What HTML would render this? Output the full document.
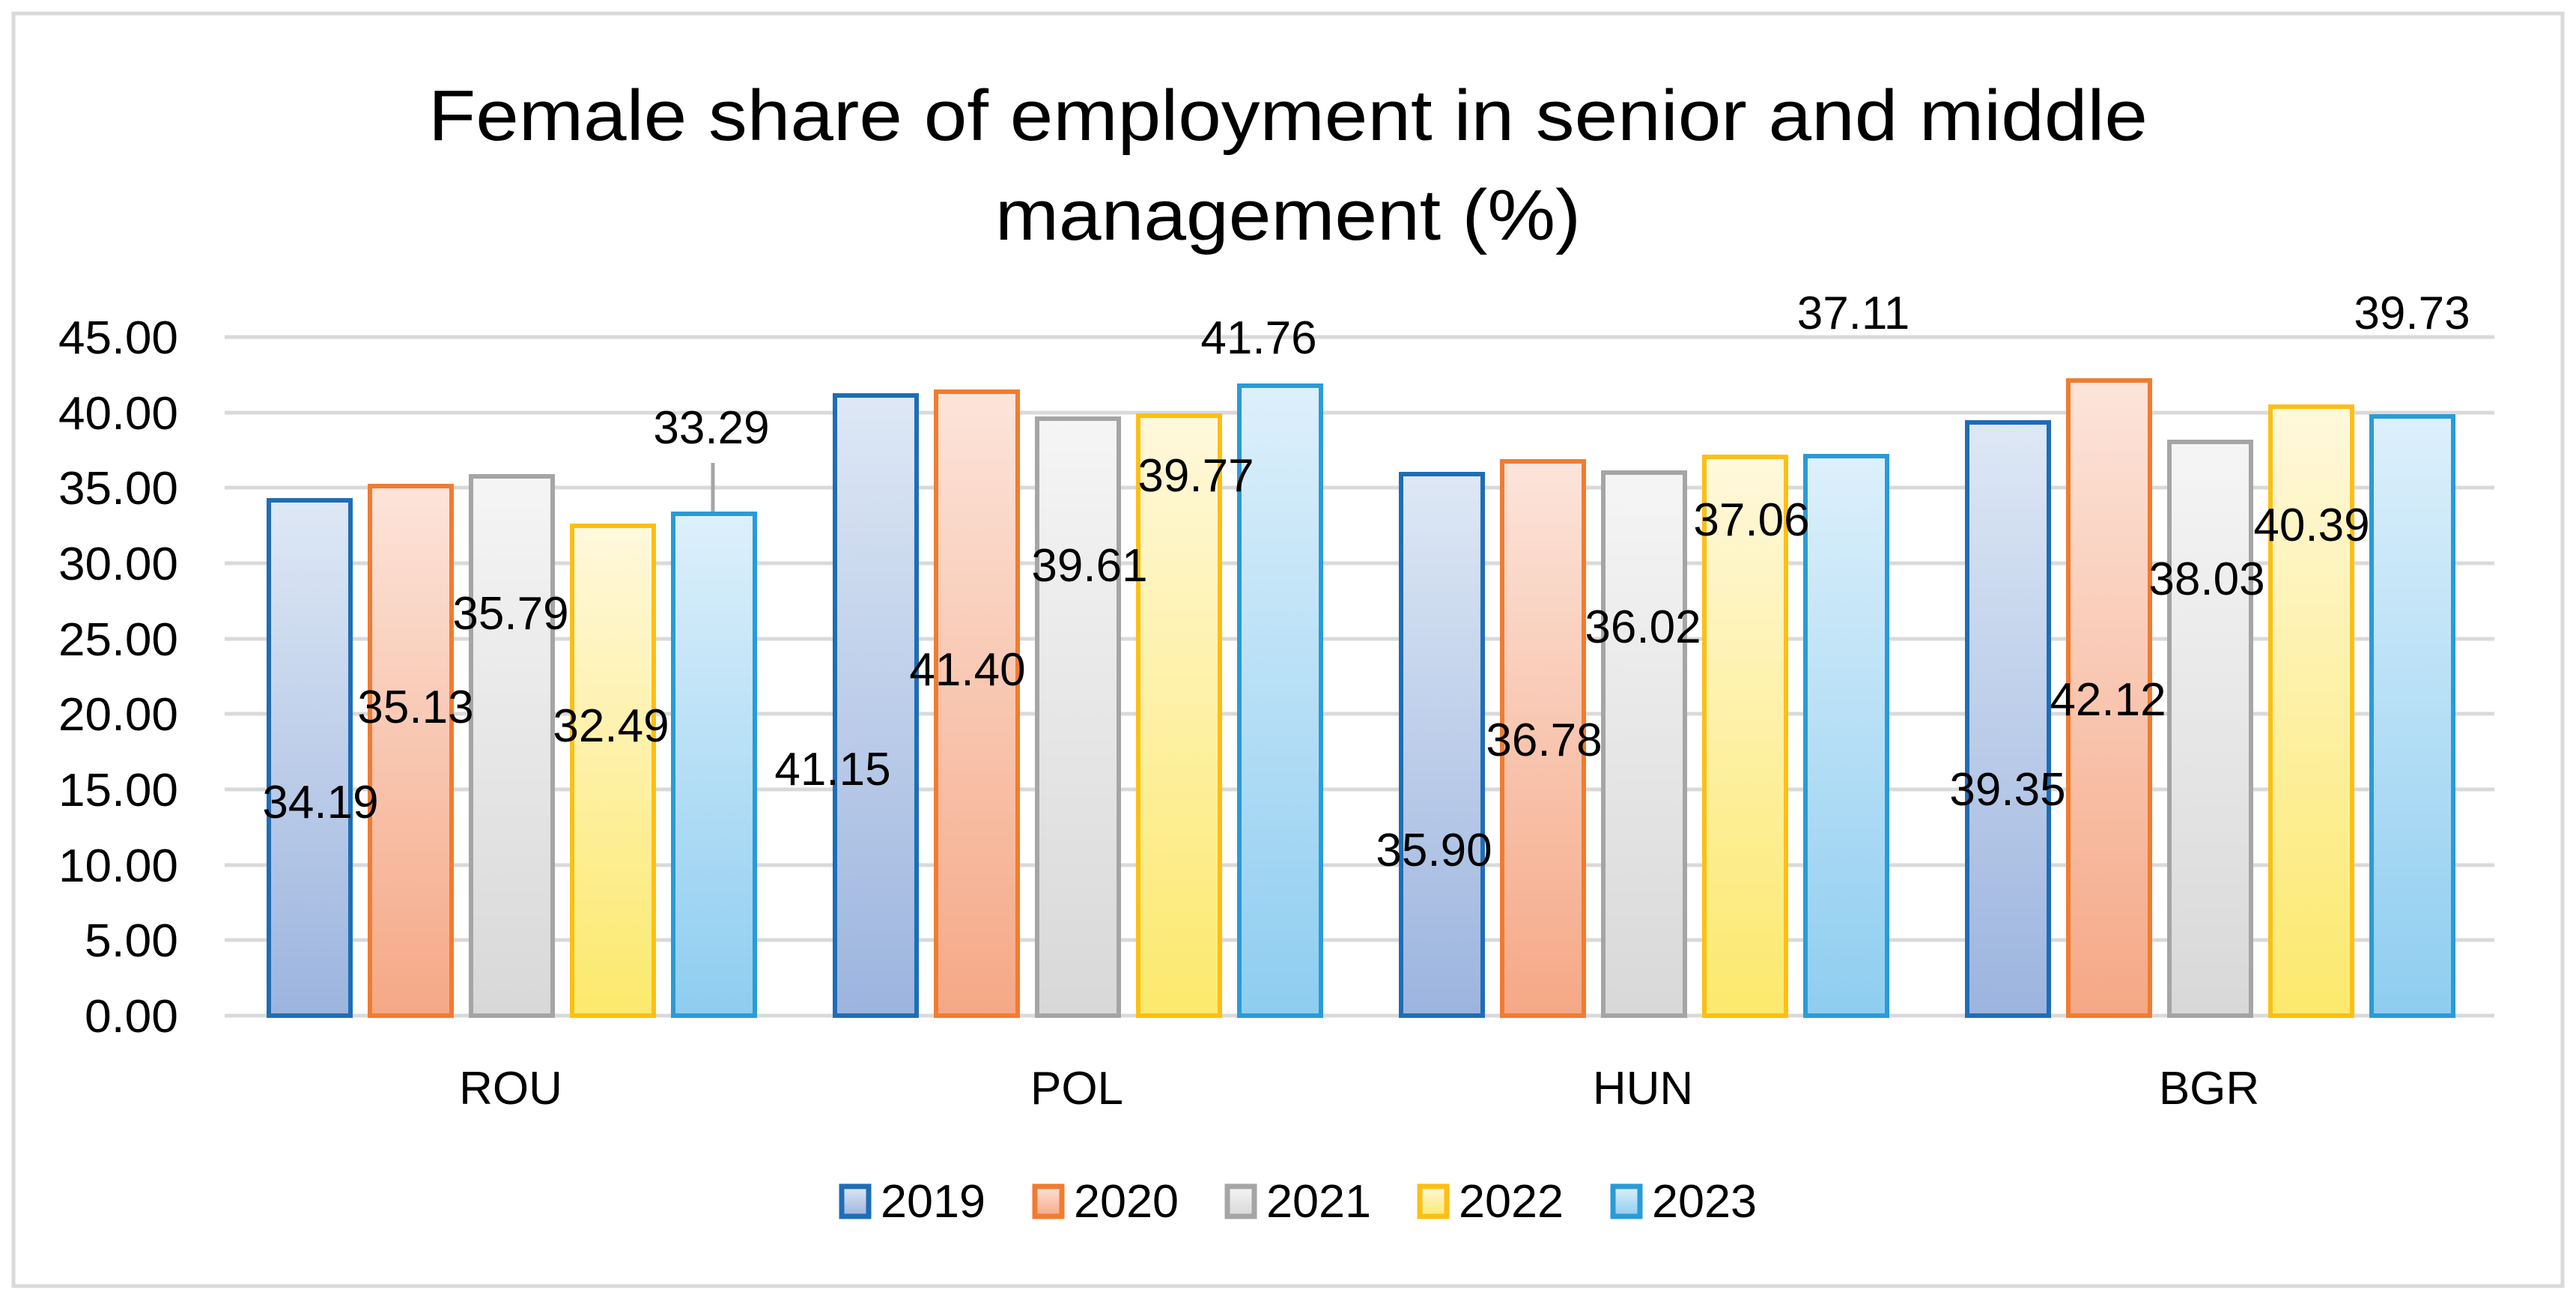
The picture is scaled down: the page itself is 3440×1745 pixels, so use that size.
<!DOCTYPE html>
<html><head><meta charset="utf-8"><style>
html,body{margin:0;padding:0;background:#fff}
svg{display:block}
text{font-family:"Liberation Sans",sans-serif;fill:#000}
</style></head><body>
<svg width="3440" height="1745" viewBox="0 0 3440 1745" xmlns="http://www.w3.org/2000/svg">
<defs>
<linearGradient id="g0" x1="0" y1="0" x2="0" y2="1"><stop offset="0" stop-color="#dee8f5"/><stop offset="1" stop-color="#9cb4de"/></linearGradient>
<linearGradient id="g1" x1="0" y1="0" x2="0" y2="1"><stop offset="0" stop-color="#fce4da"/><stop offset="1" stop-color="#f5a886"/></linearGradient>
<linearGradient id="g2" x1="0" y1="0" x2="0" y2="1"><stop offset="0" stop-color="#f5f5f5"/><stop offset="1" stop-color="#d8d8d8"/></linearGradient>
<linearGradient id="g3" x1="0" y1="0" x2="0" y2="1"><stop offset="0" stop-color="#fff8dc"/><stop offset="1" stop-color="#fce96c"/></linearGradient>
<linearGradient id="g4" x1="0" y1="0" x2="0" y2="1"><stop offset="0" stop-color="#ddf0fb"/><stop offset="1" stop-color="#8ecdf0"/></linearGradient>
</defs>
<rect x="18" y="18" width="3404" height="1699" fill="#fff" stroke="#d9d9d9" stroke-width="5"/>
<text x="1720" y="187" font-size="96" text-anchor="middle" textLength="2296" lengthAdjust="spacingAndGlyphs">Female share of employment in senior and middle</text>
<text x="1720" y="320" font-size="96" text-anchor="middle" textLength="782" lengthAdjust="spacingAndGlyphs">management (%)</text>
<g stroke="#d9d9d9" stroke-width="5">
<line x1="300" x2="3331" y1="450" y2="450"/><line x1="300" x2="3331" y1="551" y2="551"/><line x1="300" x2="3331" y1="651" y2="651"/><line x1="300" x2="3331" y1="752" y2="752"/><line x1="300" x2="3331" y1="853" y2="853"/><line x1="300" x2="3331" y1="953" y2="953"/><line x1="300" x2="3331" y1="1054" y2="1054"/><line x1="300" x2="3331" y1="1155" y2="1155"/><line x1="300" x2="3331" y1="1255" y2="1255"/><line x1="300" x2="3331" y1="1356" y2="1356"/>
</g>
<g font-size="62" text-anchor="end">
<text x="238" y="472" textLength="160" lengthAdjust="spacingAndGlyphs">45.00</text>
<text x="238" y="573" textLength="160" lengthAdjust="spacingAndGlyphs">40.00</text>
<text x="238" y="673" textLength="160" lengthAdjust="spacingAndGlyphs">35.00</text>
<text x="238" y="774" textLength="160" lengthAdjust="spacingAndGlyphs">30.00</text>
<text x="238" y="875" textLength="160" lengthAdjust="spacingAndGlyphs">25.00</text>
<text x="238" y="975" textLength="160" lengthAdjust="spacingAndGlyphs">20.00</text>
<text x="238" y="1076" textLength="160" lengthAdjust="spacingAndGlyphs">15.00</text>
<text x="238" y="1177" textLength="160" lengthAdjust="spacingAndGlyphs">10.00</text>
<text x="238" y="1277" textLength="125" lengthAdjust="spacingAndGlyphs">5.00</text>
<text x="238" y="1378" textLength="125" lengthAdjust="spacingAndGlyphs">0.00</text>
</g>
<g stroke-width="6">
<rect x="359" y="668" width="109" height="688" fill="url(#g0)" stroke="#1f6db5"/>
<rect x="494" y="649" width="109" height="707" fill="url(#g1)" stroke="#f07c30"/>
<rect x="629" y="636" width="109" height="720" fill="url(#g2)" stroke="#a5a5a5"/>
<rect x="764" y="702" width="109" height="654" fill="url(#g3)" stroke="#fdbf14"/>
<rect x="899" y="686" width="109" height="670" fill="url(#g4)" stroke="#2a9bd6"/>
<rect x="1115" y="528" width="109" height="828" fill="url(#g0)" stroke="#1f6db5"/>
<rect x="1250" y="523" width="109" height="833" fill="url(#g1)" stroke="#f07c30"/>
<rect x="1385" y="559" width="109" height="797" fill="url(#g2)" stroke="#a5a5a5"/>
<rect x="1520" y="555" width="109" height="801" fill="url(#g3)" stroke="#fdbf14"/>
<rect x="1655" y="515" width="109" height="841" fill="url(#g4)" stroke="#2a9bd6"/>
<rect x="1871" y="633" width="109" height="723" fill="url(#g0)" stroke="#1f6db5"/>
<rect x="2006" y="616" width="109" height="740" fill="url(#g1)" stroke="#f07c30"/>
<rect x="2141" y="631" width="109" height="725" fill="url(#g2)" stroke="#a5a5a5"/>
<rect x="2276" y="610" width="109" height="746" fill="url(#g3)" stroke="#fdbf14"/>
<rect x="2411" y="609" width="109" height="747" fill="url(#g4)" stroke="#2a9bd6"/>
<rect x="2627" y="564" width="109" height="792" fill="url(#g0)" stroke="#1f6db5"/>
<rect x="2762" y="508" width="109" height="848" fill="url(#g1)" stroke="#f07c30"/>
<rect x="2897" y="590" width="109" height="766" fill="url(#g2)" stroke="#a5a5a5"/>
<rect x="3032" y="543" width="109" height="813" fill="url(#g3)" stroke="#fdbf14"/>
<rect x="3167" y="556" width="109" height="800" fill="url(#g4)" stroke="#2a9bd6"/>
</g>
<line x1="952" y1="618" x2="952" y2="683" stroke="#a5a5a5" stroke-width="5"/>
<g font-size="62" text-anchor="middle">
<text x="428" y="1092">34.19</text>
<text x="555" y="965">35.13</text>
<text x="682" y="840">35.79</text>
<text x="816" y="990">32.49</text>
<text x="950" y="592">33.29</text>
<text x="1112" y="1048">41.15</text>
<text x="1292" y="915">41.40</text>
<text x="1455" y="776">39.61</text>
<text x="1597" y="656">39.77</text>
<text x="1681" y="472">41.76</text>
<text x="1915" y="1156">35.90</text>
<text x="2062" y="1009">36.78</text>
<text x="2194" y="858">36.02</text>
<text x="2339" y="715">37.06</text>
<text x="2475" y="439">37.11</text>
<text x="2681" y="1075">39.35</text>
<text x="2815" y="955">42.12</text>
<text x="2947" y="794">38.03</text>
<text x="3087" y="722">40.39</text>
<text x="3221" y="439">39.73</text>
</g>
<g font-size="62" text-anchor="middle">
<text x="682" y="1474">ROU</text>
<text x="1438" y="1474">POL</text>
<text x="2194" y="1474">HUN</text>
<text x="2950" y="1474">BGR</text>
</g>
<g stroke-width="7">
<rect x="1124" y="1584" width="36" height="40" fill="url(#g0)" stroke="#1f6db5"/>
<rect x="1382" y="1584" width="36" height="40" fill="url(#g1)" stroke="#f07c30"/>
<rect x="1639" y="1584" width="36" height="40" fill="url(#g2)" stroke="#a5a5a5"/>
<rect x="1896" y="1584" width="36" height="40" fill="url(#g3)" stroke="#fdbf14"/>
<rect x="2154" y="1584" width="36" height="40" fill="url(#g4)" stroke="#2a9bd6"/>
</g>
<g font-size="62">
<text x="1176" y="1625" textLength="140" lengthAdjust="spacingAndGlyphs">2019</text>
<text x="1434" y="1625" textLength="140" lengthAdjust="spacingAndGlyphs">2020</text>
<text x="1691" y="1625" textLength="140" lengthAdjust="spacingAndGlyphs">2021</text>
<text x="1948" y="1625" textLength="140" lengthAdjust="spacingAndGlyphs">2022</text>
<text x="2206" y="1625" textLength="140" lengthAdjust="spacingAndGlyphs">2023</text>
</g>
</svg>
</body></html>
